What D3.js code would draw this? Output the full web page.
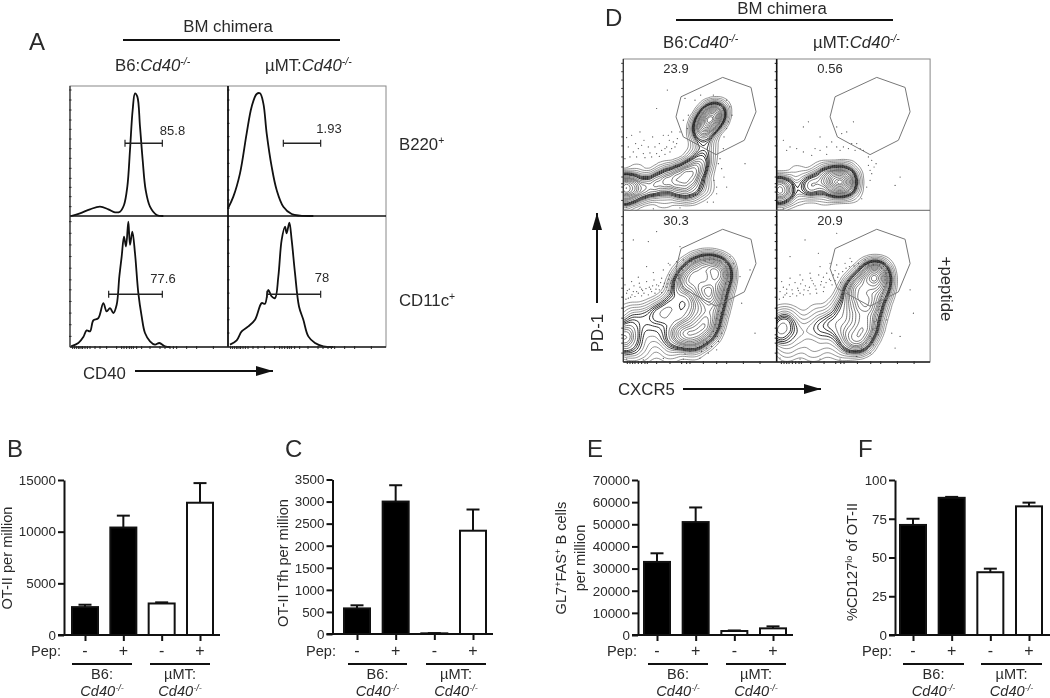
<!DOCTYPE html>
<html><head><meta charset="utf-8">
<script src="https://cdn.jsdelivr.net/npm/d3@7"></script>
<style>
html,body{margin:0;padding:0;background:#fff}
svg{display:block;filter:blur(0.4px)}
text{font-family:"Liberation Sans",Arial,sans-serif;fill:#2a2a2a}
</style></head><body>
<svg id="c" width="1050" height="698"></svg>
<script>
// ---------- bar panel data ----------
const conditions = ["B6 -","B6 +","uMT -","uMT +"];
const pepLabels = ["-","+","-","+"];
const barFills = ["#000","#000","#fff","#fff"];
const otiiValues = [2700,10400,3050,12800];
const otiiErrors = [230,1150,110,1900];
const otiiTicks = [0,5000,10000,15000];
const tfhValues = [580,3000,15,2340];
const tfhErrors = [70,370,5,480];
const tfhTicks = [0,500,1000,1500,2000,2500,3000,3500];
const gcValues = [33000,51000,1800,3000];
const gcErrors = [3900,6600,250,900];
const gcTicks = [0,10000,20000,30000,40000,50000,60000,70000];
const cd127Values = [71,88.5,40.5,83];
const cd127Errors = [4,0.6,2.3,2.4];
const cd127Ticks = [0,25,50,75,100];
// ---------- histogram data (channel, count) ----------
const histB6B220 = [[213,648],[240,640],[270,628],[300,620],[325,628],[345,637],[360,635],[372,615],[382,560],[390,450],[398,330],[405,280],[412,290],[420,380],[428,480],[437,570],[450,620],[470,645],[490,648]];
const histMuB220 = [[684,625],[700,590],[720,520],[740,400],[755,320],[770,282],[780,280],[790,310],[800,400],[815,500],[830,570],[850,620],[875,642],[900,647],[940,648]];
const histB6CD11 = [[213,1040],[235,1030],[250,1012],[260,992],[270,995],[280,962],[295,955],[310,910],[320,935],[330,925],[340,940],[350,915],[358,830],[365,770],[372,710],[378,740],[385,665],[390,735],[397,695],[405,760],[415,880],[425,950],[435,1000],[450,1025],[465,1035],[478,1030],[495,1040],[510,1042]];
const histMuCD11 = [[690,1035],[710,1022],[725,995],[745,980],[765,960],[785,910],[795,912],[805,870],[815,890],[825,895],[835,830],[845,720],[855,680],[860,700],[868,668],[875,720],[885,820],[897,920],[910,960],[925,1010],[945,1030],[970,1040],[1000,1042]];
const histGates = [[375,487,430],[850,962,430],[326,487,883],[801,962,883]];
const histLabels = [["85.8",172.5,135],["1.93",329,133],["77.6",163,283],["78",322,282]];
const histTicksY = [[270,300,330,360,388,417,446,475,505,535,562,590,620],[270,300,330,370,410,450,490,530,570,600,625],[665,700,735,770,805,840,870,905,940,975,1010],[680,720,760,800,840,880,925,960,1000]];
const histTicksX = [218,224,230,236,240,246,248,255,262,270,285,300,320,350,365,372,380,388,394,400,410,425,450,480,495,510,520,530,560,590,640];
// ---------- contour data (channel x, channel y, weight) ----------
const contourLevels = [.03,.055,.085,.12,.15,.18,.21,.24,.27,.33,.39,.44,.49,.56,.63,.7,.77,.84,.91,.96];
const darkLevels = [.18,.21,.24,.27];
const popTL = [[155,555,5],[180,560,5],[160,592,3],[210,565,2.5],[240,560,2.5],[270,548,3],[300,540,3],[330,525,3.5],[360,520,4],[385,505,3],[397,475,2],[330,565,3],[365,560,2.5],[400,560,1],[405,440,.9],[400,420,1],[395,390,3],[410,370,5],[425,350,6],[440,335,3],[200,515,.6],[280,510,.6],[360,480,.5],[200,595,.7],[280,595,.7],[360,590,.5]];
const popTR = [[615,560,5],[645,565,5],[625,592,3],[715,560,3],[735,550,3],[775,530,4],[800,530,4],[825,530,4],[830,555,4],[790,560,4],[810,560,3],[680,515,.6],[750,510,.6],[830,505,.5],[680,592,.6],[760,592,.6],[850,585,.4],[855,535,.5]];
const popBL = [[440,805,3.5],[450,820,3.5],[445,850,3.5],[435,890,4],[425,930,4],[415,970,4],[400,1000,3.5],[370,1012,3.5],[340,1010,3],[320,1000,2],[410,798,3.5],[380,808,3.5],[355,830,3.5],[335,860,3],[310,910,2.2],[405,880,4.5],[400,850,3],[370,860,2],[380,910,2.5],[360,950,2],[390,960,2],[350,985,2],[300,950,1.5],[270,945,1.5],[240,955,1],[200,968,1],[165,1000,3],[155,1025,3],[200,1012,1],[250,1000,1],[290,1010,1],[220,1052,.9],[300,1052,.9],[370,1052,.6],[180,1060,1],[200,945,.6],[260,925,.6],[170,948,.6]];
const popBR = [[925,825,3.5],[915,815,3.5],[928,850,3.5],[920,880,4],[908,925,4],[895,975,4],[880,1010,3.5],[860,1028,3.5],[835,1015,3],[815,985,2.2],[895,830,3.5],[870,850,3.5],[845,880,3],[815,925,2.2],[880,910,4.5],[870,875,3],[855,930,2.5],[850,970,2],[875,965,2],[790,965,1.5],[760,975,1.2],[735,990,1.2],[690,985,1],[640,975,2.5],[625,1005,2.5],[680,1020,1],[770,1020,1],[650,1052,.9],[730,1052,.9],[810,1052,.7],[660,948,.6],[740,938,.6],[630,948,.6]];
const dotsTL = [[170,412],[185,405],[197,430],[210,395],[222,420],[235,440],[248,410],[260,325],[268,430],[280,405],[285,445],[292,270],[298,420],[305,395],[315,440],[322,415],[175,440],[190,455],[205,445],[220,460],[240,458],[260,460],[275,450],[290,440],[300,455],[310,425],[345,295],[375,300],[392,285],[430,285],[470,300],[480,320],[486,345],[475,365],[470,385],[462,410],[460,445],[450,475],[445,490],[455,505],[462,530],[470,560],[432,540],[440,560],[440,580],[412,605],[525,490],[355,345],[340,360],[352,385],[430,605],[170,620],[250,625],[330,622],[180,470],[200,470],[225,472],[245,470],[268,468],[285,462],[305,445],[320,430],[165,475],[215,435],[255,440],[295,405],[330,395]];
const dotsTR = [[640,420],[660,440],[680,445],[700,380],[715,365],[735,445],[750,410],[770,440],[785,425],[800,440],[815,400],[830,395],[850,365],[860,430],[870,445],[880,450],[895,470],[905,480],[912,500],[905,520],[918,490],[900,540],[890,560],[875,595],[975,555],[990,530],[845,430],[820,440],[800,380],[835,445],[650,450],[700,455],[750,450],[810,450],[640,625],[725,465],[770,462],[855,450],[895,495],[900,510]];
const dotsBL = [[170,880],[178,868],[186,885],[192,858],[200,875],[208,850],[215,868],[222,880],[230,845],[238,862],[245,875],[252,840],[260,855],[268,870],[275,835],[283,850],[290,862],[298,825],[305,842],[312,860],[320,815],[326,835],[175,895],[195,890],[215,888],[235,885],[255,880],[275,878],[295,872],[165,855],[185,845],[205,832],[250,818],[280,810],[300,795],[320,785],[340,780],[360,775],[380,770],[400,768],[420,772],[440,770],[460,775],[480,770],[490,790],[480,810],[486,830],[475,845],[470,870],[465,890],[458,915],[452,940],[448,960],[455,980],[440,985],[442,1010],[430,1020],[425,1040],[410,1045],[395,1055],[415,1060],[440,1050],[400,1030],[470,905],[480,860],[190,720],[235,725],[260,695],[295,790],[230,800],[330,740],[170,1078],[220,1080],[280,1076],[340,1078],[390,1075],[510,830],[540,810],[555,1000],[515,910],
 [168,898],[182,892],[205,880],[218,872],[228,866],[242,868],[258,868],[266,858],[280,860],[292,852],[302,850],[310,838],[318,830],[330,825],[338,810],[345,800],[352,795],[365,785],[375,783],[390,778],[405,782],[418,780],[432,778],[450,782],[466,788],[475,795],[470,825],[466,850],[462,870],[456,895],[450,915],[445,935],[440,955],[435,975],[430,995],[420,1010],[410,1025],[390,1040],[375,1048],[360,1055],[345,1062],[172,872],[190,875],[210,862],[248,858],[272,848],[296,838],[445,1025],[455,1000],[465,945]];
const dotsBR = [[630,875],[640,862],[650,880],[658,855],[666,870],[675,848],[683,865],[690,880],[698,840],[706,858],[714,872],[722,835],[730,852],[738,868],[746,825],[754,845],[762,862],[770,820],[778,838],[786,855],[795,812],[803,832],[812,848],[640,892],[660,890],[680,888],[700,885],[720,882],[740,880],[760,875],[635,845],[660,835],[690,825],[720,820],[750,800],[780,790],[800,795],[825,790],[845,785],[865,790],[885,780],[905,785],[925,785],[945,790],[935,805],[950,810],[945,830],[950,850],[940,870],[935,890],[930,910],[925,930],[935,950],[920,960],[915,985],[925,1005],[905,1015],[895,1040],[880,1050],[900,1060],[870,1055],[950,960],[965,1000],[975,1045],[1020,870],[1030,940],[990,1010],[660,770],[705,720],[745,760],[800,700],[840,775],[630,1075],[690,1078],[750,1078],[810,1078],[860,1070],[830,1060],
 [628,898],[645,885],[668,882],[685,872],[702,870],[718,862],[735,858],[752,855],[768,848],[782,842],[795,842],[806,822],[818,815],[828,805],[838,800],[852,798],[868,800],[882,792],[895,795],[910,795],[928,795],[940,800],[948,820],[945,840],[942,860],[938,880],[932,900],[928,920],[922,945],[915,965],[908,990],[900,1010],[888,1030],[875,1045],[855,1052],[925,975],[935,925],[650,868],[692,852],[726,842],[760,832],[790,825],[910,1035],[945,905],[955,880]];
const gateTop = [[333,290],[458,232],[543,262],[558,335],[523,420],[438,463],[340,410],[318,350]];
const contourTicksY = [[190,215,240,265,290,320,350,380,410,437,470,500,530,550,560,575,600],[190,215,240,265,290,320,350,380,410,437,470,500,530,550,560,575,600],[650,675,700,725,750,775,805,835,865,892,925,955,985,1005,1015,1030,1060],[650,675,700,725,750,775,805,835,865,892,925,955,985,1005,1015,1030,1060]];
const contourTicksX = [172,180,188,195,205,215,225,232,260,300,335,350,360,400,440,470,520,570];
// ---------- text ----------
const signs = {b6:"B6:", mu:"µMT:", ko:"Cd40", koSup:"-/-"};

const svg = d3.select("#c");
function rich(x,y,parts,size,anchor,transform){
  const t = svg.append("text").attr("font-size",size).attr("text-anchor",anchor||"start");
  if(transform) t.attr("transform",transform); else t.attr("x",x).attr("y",y);
  let back=0;
  parts.forEach(p=>{
    const s=t.append("tspan").text(p.t);
    if(p.i) s.attr("font-style","italic");
    if(p.sup){s.attr("font-size",size*0.62).attr("dy",-size*0.36);back=size*0.36;}
    else if(back){s.attr("dy",back);back=0;}
  });
  return t;
}
function line(x1,y1,x2,y2,w,col){svg.append("line").attr("x1",x1).attr("y1",y1).attr("x2",x2).attr("y2",y2).attr("stroke",col||"#111").attr("stroke-width",w);}
function arrow(x1,y1,x2,y2){
  line(x1,y1,x2,y2,2);
  const a=Math.atan2(y2-y1,x2-x1)*180/Math.PI;
  svg.append("path").attr("d","M0,0L-17,-5L-17,5Z").attr("transform",`translate(${x2},${y2}) rotate(${a})`).attr("fill","#111");
}
const koLabel=[{t:signs.ko,i:1},{t:signs.koSup,i:1,sup:1}];
function letter(s,x,y){svg.append("text").attr("x",x).attr("y",y).attr("font-size",24).text(s);}
const HEAD=16.8, BAR=14.6;

// ---------- panel A ----------
letter("A",29,50); letter("D",605,26);
svg.append("text").attr("x",228).attr("y",32).attr("text-anchor","middle").attr("font-size",HEAD).text("BM chimera");
line(123,40,340,40,2);
rich(115,71,[{t:signs.b6},...koLabel],HEAD);
rich(265,71,[{t:signs.mu},...koLabel],HEAD);
const histPanels=[
 {data:histB6B220,x0:70,y0:86,w:158,h:130,dx:[210,684],dy:[648,258],gate:histGates[0],ty:histTicksY[0],off:0},
 {data:histMuB220,x0:228,y0:86,w:158,h:130,dx:[684,1158],dy:[648,258],gate:histGates[1],ty:histTicksY[1],off:474},
 {data:histB6CD11,x0:70,y0:216,w:158,h:131,dx:[210,684],dy:[1042,648],gate:histGates[2],ty:histTicksY[2],off:0},
 {data:histMuCD11,x0:228,y0:216,w:158,h:131,dx:[684,1158],dy:[1042,648],gate:histGates[3],ty:histTicksY[3],off:474}];
svg.append("rect").attr("x",70).attr("y",86).attr("width",316).attr("height",261).attr("fill","none").attr("stroke","#888").attr("stroke-width",1);
histPanels.forEach((p,i)=>{
  const sx=d3.scaleLinear().domain(p.dx).range([p.x0,p.x0+p.w]);
  const sy=d3.scaleLinear().domain(p.dy).range([p.y0+p.h,p.y0]);
  svg.append("path").datum(p.data).attr("fill","none").attr("stroke","#111").attr("stroke-width",1.8)
    .attr("d",d3.line().x(d=>sx(d[0])).y(d=>sy(d[1])).curve(d3.curveCatmullRom.alpha(.5)));
  const g=p.gate, gy=sy(g[2]);
  line(sx(g[0]),gy,sx(g[1]),gy,1.5,"#222");
  line(sx(g[0]),gy-3.5,sx(g[0]),gy+3.5,1.2,"#222");
  line(sx(g[1]),gy-3.5,sx(g[1]),gy+3.5,1.2,"#222");
  p.ty.forEach(t=>line(p.x0-1,sy(t),p.x0+1.5,sy(t),1,"#222"));
  if(i>=2) histTicksX.forEach(t=>line(sx(t+p.off),346,sx(t+p.off),349,1,"#222"));
});
line(228,86,228,347,1.8); line(70,86,70,347,1.2,"#333");
line(70,216,386,216,1.4,"#111"); line(70,347,386,347,1.6,"#222");
histLabels.forEach(l=>svg.append("text").attr("x",l[1]).attr("y",l[2]).attr("text-anchor","middle").attr("font-size",13).attr("fill","#444").text(l[0]));
rich(399,150,[{t:"B220"},{t:"+",sup:1}],HEAD);
rich(399,306,[{t:"CD11c"},{t:"+",sup:1}],HEAD);
svg.append("text").attr("x",83).attr("y",379).attr("font-size",HEAD).text("CD40");
arrow(135,371,273,371);

// ---------- panel D ----------
svg.append("text").attr("x",782).attr("y",14).attr("text-anchor","middle").attr("font-size",HEAD).text("BM chimera");
line(676,20,893,20,2);
rich(663,48,[{t:signs.b6},...koLabel],HEAD);
rich(813,48,[{t:signs.mu},...koLabel],HEAD);
const defs=svg.append("defs");
const conPanels=[
 {pop:popTL,dots:dotsTL,x0:623.3,y0:59,dx:[160,620],dy:[631,177],shift:[0,0],lab:["23.9",676,73],ty:contourTicksY[0],bw:6.5},
 {pop:popTR,dots:dotsTR,x0:776.7,y0:59,dx:[620,1080],dy:[631,177],shift:[462,0],lab:["0.56",830,73],ty:contourTicksY[1],bw:6.5},
 {pop:popBL,dots:dotsBL,x0:623.3,y0:210.3,dx:[160,620],dy:[1087,631],shift:[0,456],lab:["30.3",676,225],ty:contourTicksY[2],bw:7},
 {pop:popBR,dots:dotsBR,x0:776.7,y0:210.3,dx:[620,1080],dy:[1087,631],shift:[462,456],lab:["20.9",830,225],ty:contourTicksY[3],bw:7}];
const cw=153.4, ch=151.8;
conPanels.forEach((p,i)=>{
  const sx=d3.scaleLinear().domain(p.dx).range([0,cw]);
  const sy=d3.scaleLinear().domain(p.dy).range([ch,0]);
  defs.append("clipPath").attr("id","cl"+i).append("rect").attr("width",cw).attr("height",ch);
  const g=svg.append("g").attr("transform",`translate(${p.x0},${p.y0})`).attr("clip-path",`url(#cl${i})`);
  const dens=d3.contourDensity().x(d=>sx(d[0])).y(d=>sy(d[1])).weight(d=>d[2]).size([cw,ch]).cellSize(2).bandwidth(p.bw).contours(p.pop);
  const geo=d3.geoPath();
  contourLevels.forEach(l=>{
    const dark=darkLevels.includes(l);
    g.append("path").attr("d",geo(dens(l*dens.max))).attr("fill","none")
      .attr("stroke",dark?"#1a1a1a":l<.18?"#666":"#444").attr("stroke-width",dark?.9:.7);
  });
  g.selectAll("circle").data(p.dots).join("circle").attr("cx",d=>sx(d[0])).attr("cy",d=>sy(d[1])).attr("r",.6).attr("fill","#444");
  svg.append("polygon").attr("points",gateTop.map(d=>{
     const gx=d[0]+p.shift[0], gy=d[1]+p.shift[1];
     return [p.x0+sx(gx),p.y0+sy(gy)].join(",");}).join(" "))
    .attr("fill","none").attr("stroke","#777").attr("stroke-width",1);
  p.ty.forEach(t=>line(p.x0-2,p.y0+sy(t),p.x0+.5,p.y0+sy(t),1,"#222"));
  if(i>=2) contourTicksX.forEach(t=>line(p.x0+sx(t+p.shift[0]),361,p.x0+sx(t+p.shift[0]),364,1,"#222"));
  svg.append("text").attr("x",p.lab[1]).attr("y",p.lab[2]).attr("text-anchor","middle").attr("font-size",13).attr("fill","#333").text(p.lab[0]);
});
svg.append("rect").attr("x",623.3).attr("y",59).attr("width",306.8).attr("height",303).attr("fill","none").attr("stroke","#888").attr("stroke-width",1);
line(623.3,59,623.3,362,1.2,"#333");
line(776.7,59,776.7,362,1.6); line(623.3,210.3,930,210.3,1,"#666"); line(623.3,362,930,362,1.6,"#222");
rich(0,0,[{t:"PD-1"}],HEAD,"middle","translate(603,333) rotate(-90)");
arrow(597,303,597,213);
svg.append("text").attr("x",618).attr("y",395).attr("font-size",HEAD).text("CXCR5");
arrow(683,389,821,389);
rich(0,0,[{t:"+peptide"}],HEAD,"middle","translate(941,289) rotate(90)");

// ---------- bar panels ----------
const barPanels=[
 {let:"B",lx:7,vals:otiiValues,errs:otiiErrors,ticks:otiiTicks,dom:15000,ax:64,end:220,y0:635,yt:480,c0:85,c3:200,
  lab:[[{t:"OT-II per million"}]],labX:[12],labY:558,pep:61,g:[[72,132],[150,210]]},
 {let:"C",lx:285,vals:tfhValues,errs:tfhErrors,ticks:tfhTicks,dom:3500,ax:332.5,end:493,y0:634,yt:479.5,c0:357,c3:473,
  lab:[[{t:"OT-II Tfh per million"}]],labX:[288],labY:563,pep:336,g:[[348,407],[426,486]]},
 {let:"E",lx:587,vals:gcValues,errs:gcErrors,ticks:gcTicks,dom:70000,ax:638,end:793,y0:635,yt:480,c0:657,c3:773,
  lab:[[{t:"GL7"},{t:"+",sup:1},{t:"FAS"},{t:"+",sup:1},{t:" B cells"}],[{t:"per million"}]],labX:[566,585],labY:558,pep:637,g:[[648,708],[726,786]]},
 {let:"F",lx:858,vals:cd127Values,errs:cd127Errors,ticks:cd127Ticks,dom:100,ax:895,end:1050,y0:635,yt:480,c0:913,c3:1029,
  lab:[[{t:"%CD127"},{t:"lo",sup:1},{t:" of OT-II"}]],labX:[857],labY:562,pep:892,g:[[903,964],[981,1042]]}];
barPanels.forEach(p=>{
  letter(p.let,p.lx,457);
  const y=d3.scaleLinear().domain([0,p.dom]).range([p.y0,p.yt]);
  const x=d3.scalePoint().domain(conditions).range([p.c0,p.c3]);
  const bw=26;
  const g=svg.append("g");
  g.selectAll(".e").data(p.vals).join("g").each(function(v,i){
    const s=d3.select(this), cx=x(conditions[i]), top=y(v+p.errs[i]);
    s.append("line").attr("x1",cx).attr("x2",cx).attr("y1",y(v)).attr("y2",top).attr("stroke","#111").attr("stroke-width",2);
    s.append("line").attr("x1",cx-6.5).attr("x2",cx+6.5).attr("y1",top).attr("y2",top).attr("stroke","#111").attr("stroke-width",2);
    s.append("rect").attr("x",cx-bw/2).attr("width",bw).attr("y",y(v)).attr("height",Math.max(0,p.y0-y(v))).attr("fill",barFills[i]).attr("stroke","#111").attr("stroke-width",2);
  });
  const ay=svg.append("g").attr("transform",`translate(${p.ax},0)`).call(d3.axisLeft(y).tickValues(p.ticks).tickSize(6).tickPadding(2).tickSizeOuter(0).tickFormat(d3.format("d")));
  ay.selectAll("path,line").attr("stroke","#111").attr("stroke-width",2);
  ay.selectAll("text").attr("font-size",13.4).attr("font-family",'"Liberation Sans",Arial,sans-serif').attr("fill","#2a2a2a");
  const ax=svg.append("g").attr("transform",`translate(0,${p.y0})`).call(d3.axisBottom(x).tickSize(6).tickSizeOuter(0).tickFormat(""));
  ax.select("path").remove();
  ax.selectAll("line").attr("stroke","#111").attr("stroke-width",2);
  line(p.ax-6,p.y0,p.end,p.y0,2);
  conditions.forEach((c,i)=>svg.append("text").attr("x",x(c)).attr("y",656).attr("text-anchor","middle").attr("font-size",16).text(pepLabels[i]));
  svg.append("text").attr("x",p.pep).attr("y",656).attr("text-anchor","end").attr("font-size",BAR).text("Pep:");
  p.g.forEach((r,i)=>{
    line(r[0],664,r[1],664,2);
    const mid=(r[0]+r[1])/2;
    svg.append("text").attr("x",mid).attr("y",679).attr("text-anchor","middle").attr("font-size",BAR).text(i?signs.mu:signs.b6);
    rich(mid,696,koLabel,BAR,"middle");
  });
  p.lab.forEach((parts,i)=>rich(0,0,parts,BAR,"middle",`translate(${p.labX[i]},${p.labY}) rotate(-90)`));
});
</script>
</body></html>
